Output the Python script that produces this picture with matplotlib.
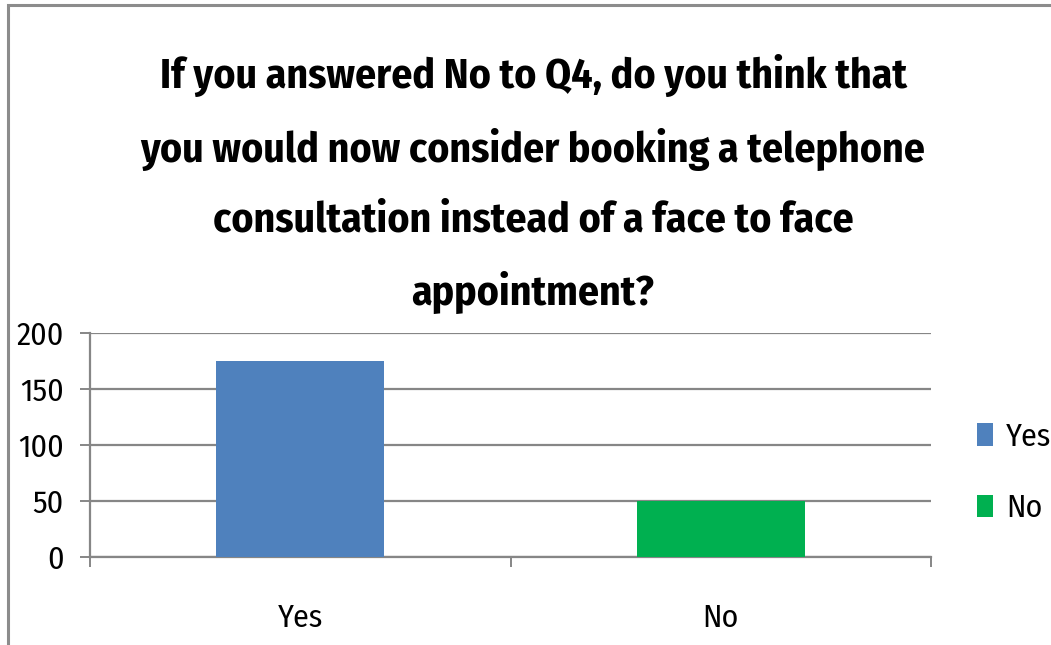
import matplotlib
matplotlib.use("Agg")
import matplotlib.pyplot as plt
from matplotlib.patches import Rectangle

categories = ["Yes", "No"]
responses = [175, 50]
bar_colors = ["#4f81bd", "#00b050"]
y_ticks = [0, 50, 100, 150, 200]
title = ("If you answered No to Q4, do you think that\n"
         "you would now consider booking a telephone\n"
         "consultation instead of a face to face\n"
         "appointment?")

plt.rcParams['font.family'] = ['Fira Sans Condensed', 'Carlito', 'DejaVu Sans']

fig = plt.figure(figsize=(10.51, 6.45), dpi=100)
W, H = 1051, 645

# outer chart frame (only top and left edges are inside the canvas)
fig.patches.append(Rectangle((8 / W, -0.05), 1.2, 1 - 5 / H + 0.05, transform=fig.transFigure,
                             fill=False, edgecolor="#8c8c8c", linewidth=2.2))

ax = fig.add_axes([90 / W, 1 - 557 / H, (931 - 90) / W, (557 - 333) / H])
x = list(range(len(categories)))
bars = ax.bar(x, responses, width=0.4, color=bar_colors, label=categories, zorder=3)

ax.set_xlim(-0.5, len(categories) - 0.5)
ax.set_ylim(0, 200)
ax.set_yticks(y_ticks)
ax.yaxis.grid(True, color="#868686", linewidth=1.6, zorder=0)

ax.set_xticks(x)
ax.set_xticklabels(categories)
ax.set_xticks([i - 0.5 for i in range(len(categories) + 1)], minor=True)
ax.tick_params(axis="x", which="major", length=0, pad=33, labelsize=23)
ax.tick_params(axis="x", which="minor", length=7, width=1.4, color="#868686", direction="out")
ax.tick_params(axis="y", length=7, width=1.4, color="#868686", pad=12, labelsize=23)

for side in ["top", "right"]:
    ax.spines[side].set_visible(False)
for side in ["left", "bottom"]:
    ax.spines[side].set_color("#868686")
    ax.spines[side].set_linewidth(1.6)

fig.text(533 / W, 1 - 184 / H, title, ha="center", va="center", fontsize=30,
         fontweight="bold", linespacing=1.9)

leg = ax.legend(handles=bars.patches, labels=categories, loc="center left",
                bbox_to_anchor=(1.04, 0.377), borderaxespad=0, frameon=False, fontsize=23,
                handlelength=0.5, handleheight=0.7, handletextpad=0.4,
                labelspacing=1.3)

fig.savefig("out.png", dpi=100)
